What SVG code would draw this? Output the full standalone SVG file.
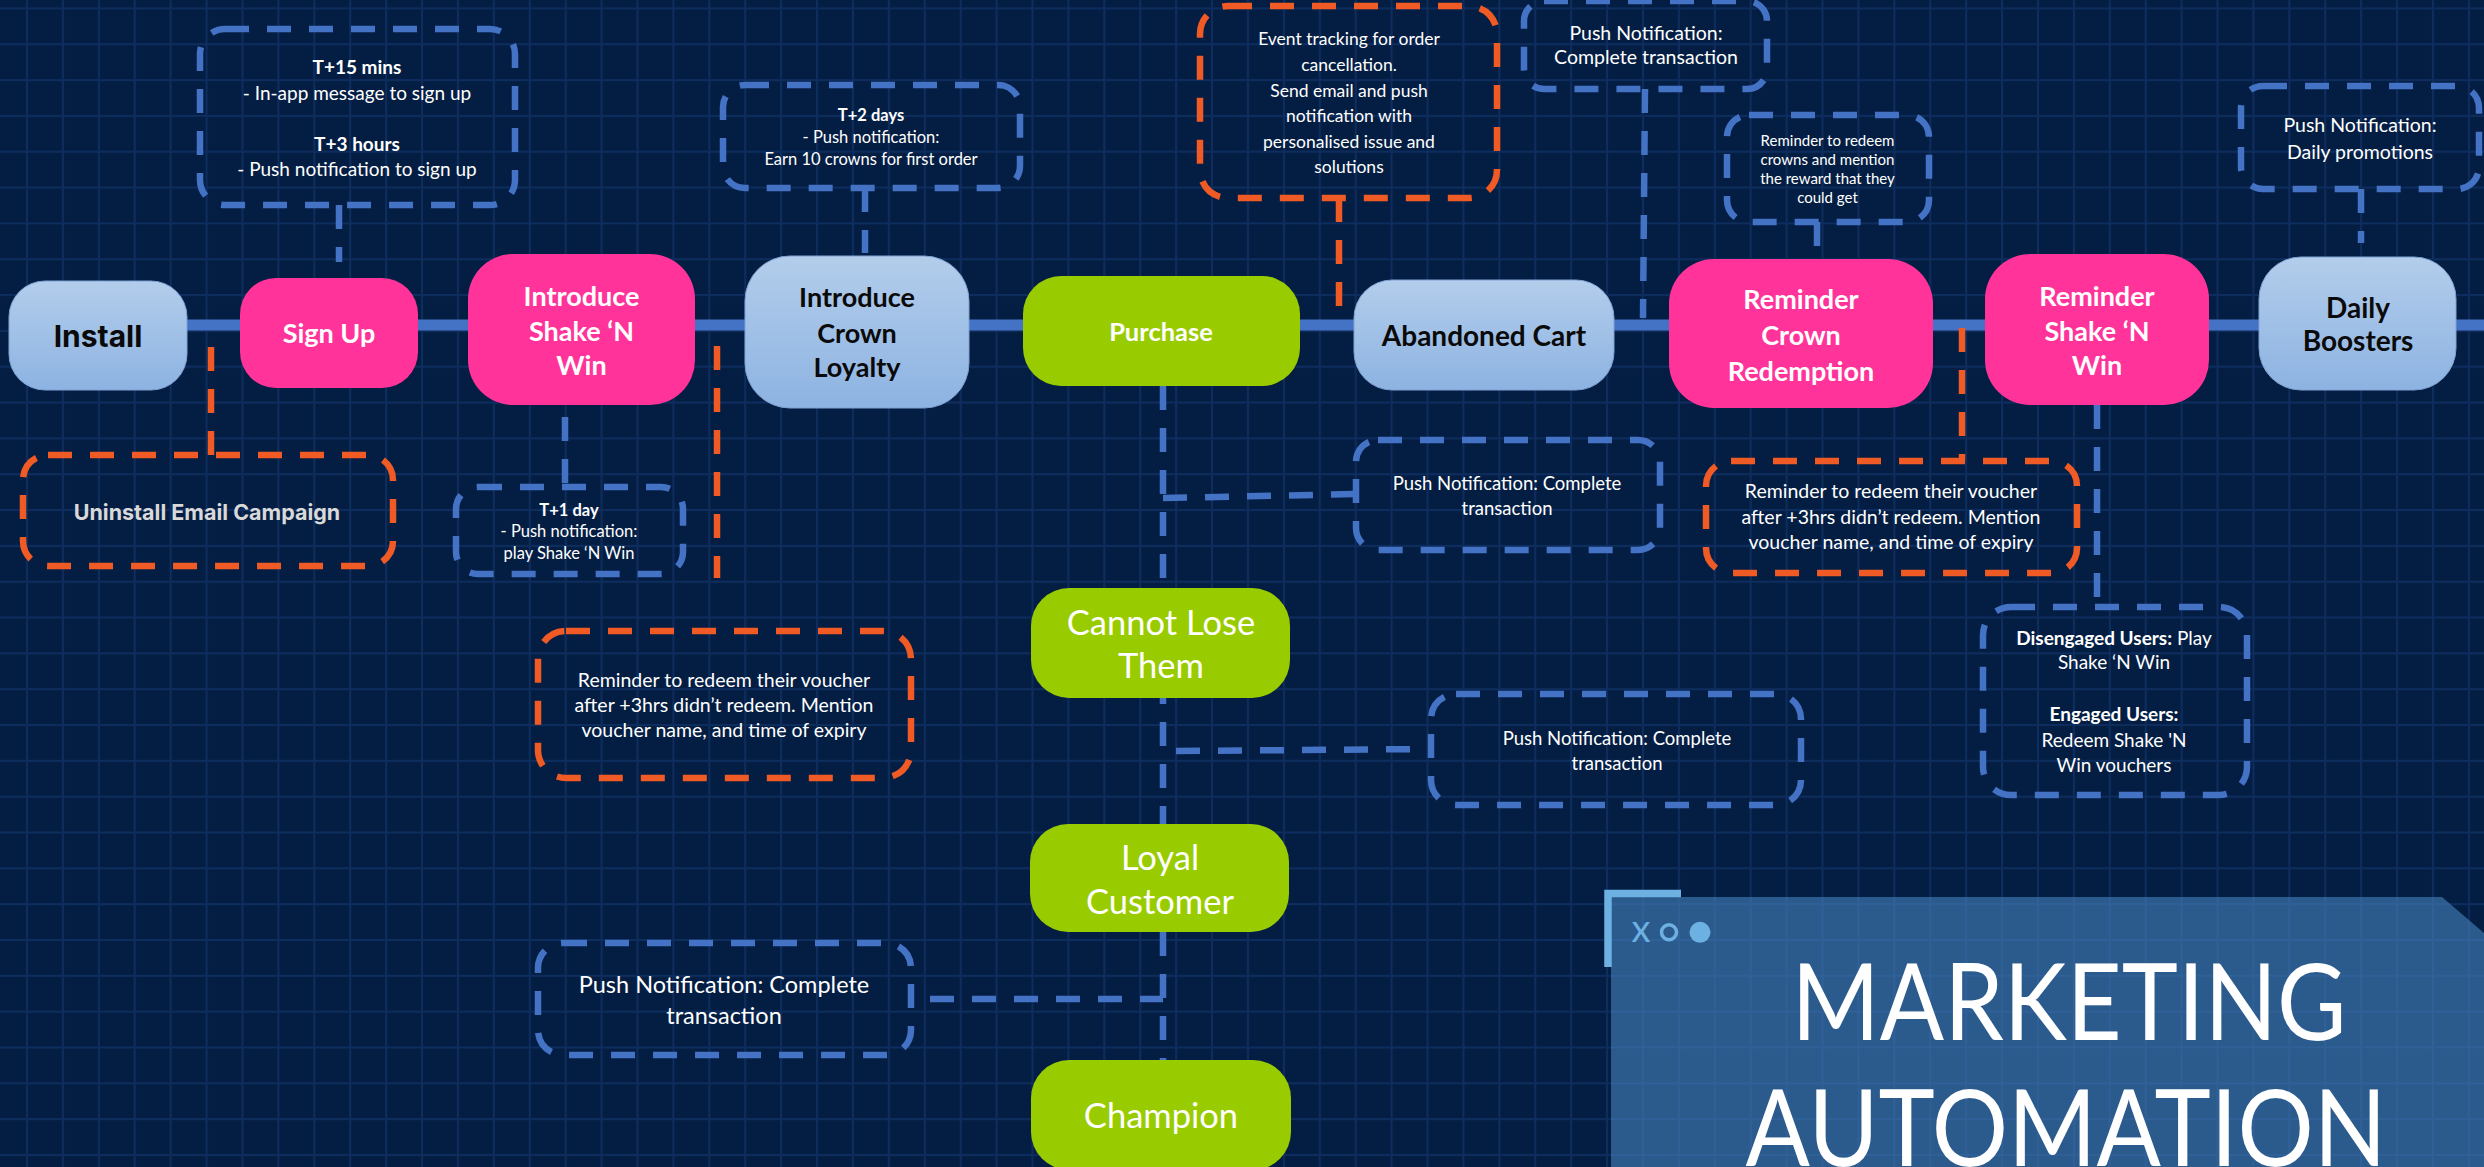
<svg xmlns="http://www.w3.org/2000/svg" width="2484" height="1167" viewBox="0 0 2484 1167">
<defs>
<pattern id="grid" patternUnits="userSpaceOnUse" x="26" y="7.4" width="35.91" height="35.83">
<rect x="0" y="0" width="2" height="35.83" fill="#0E2D5F"/>
<rect x="0" y="0" width="35.91" height="2" fill="#0E2D5F"/>
</pattern>
<linearGradient id="lb" x1="0" y1="0" x2="0" y2="1">
<stop offset="0" stop-color="#B3CDEB"/>
<stop offset="1" stop-color="#8DB3E2"/>
</linearGradient>
<style>
.t{font-family:Lato,'Open Sans','Liberation Sans',sans-serif;text-anchor:middle}
.w{fill:#FFFFFF}
.k{fill:#0A0A0A}
.b{font-weight:700}
.db{fill:none;stroke:#4472C4;stroke-width:6.5;stroke-dasharray:24 18}
.do{fill:none;stroke:#F05A24;stroke-width:6.5;stroke-dasharray:24 18}
.lbn{fill:url(#lb);stroke:#7FA2D4;stroke-width:1}
.pk{fill:#FF3399}
.gr{fill:#99CC00}
.n27{font-size:27px}
.geo{font-family:Inter,'Noto Sans','Liberation Sans',sans-serif;font-weight:700;text-anchor:middle}
</style>
</defs>
<rect width="2484" height="1167" fill="#041E43"/>
<rect width="2484" height="1167" fill="url(#grid)"/>

<g id="connectors">
<line x1="180" y1="325" x2="2484" y2="325" stroke="#4472C4" stroke-width="11"/>
<line class="db" x1="339" y1="205" x2="339" y2="262"/>
<line class="do" x1="211" y1="455" x2="211" y2="346"/>
<line class="db" x1="565" y1="417" x2="565" y2="487"/>
<line class="do" x1="717" y1="346" x2="717" y2="578"/>
<line class="db" x1="865" y1="188" x2="865" y2="253"/>
<line class="do" x1="1339" y1="198" x2="1339" y2="323"/>
<line class="db" x1="1163" y1="386" x2="1163" y2="1060"/>
<line class="db" x1="1163" y1="498" x2="1356" y2="494"/>
<line class="db" x1="1176" y1="751" x2="1431" y2="749"/>
<line class="db" x1="930" y1="999" x2="1163" y2="999"/>
<line class="db" x1="1645" y1="89" x2="1643" y2="318"/>
<line class="db" x1="1817" y1="222" x2="1817" y2="250"/>
<line class="db" x1="2361" y1="189" x2="2361" y2="243"/>
<line class="do" x1="1962" y1="328" x2="1962" y2="461"/>
<line class="db" x1="2097" y1="405" x2="2097" y2="607"/>
</g>

<g id="node-install">
<rect class="lbn" x="9" y="281" width="178" height="109" rx="36"/>
<text class="geo" x="98" y="347" font-size="30" fill="#0A0A0A">Install</text>
</g>
<g id="node-signup">
<rect class="pk" x="240" y="278" width="178" height="110" rx="36"/>
<text class="t w b n27" x="329" y="342.5">Sign Up</text>
</g>
<g id="node-intro-shake">
<rect class="pk" x="468" y="254" width="227" height="151" rx="45"/>
<text class="t w b n27" x="581.5" y="306">Introduce</text>
<text class="t w b n27" x="581.5" y="340.5">Shake ‘N</text>
<text class="t w b n27" x="581.5" y="375">Win</text>
</g>
<g id="node-intro-crown">
<rect class="lbn" x="745" y="256" width="224" height="152" rx="45"/>
<text class="t k b n27" x="857" y="307">Introduce</text>
<text class="t k b n27" x="857" y="342.5">Crown</text>
<text class="t k b n27" x="857" y="377">Loyalty</text>
</g>
<g id="node-purchase">
<rect class="gr" x="1023" y="276" width="277" height="110" rx="38"/>
<text class="t w b" x="1161" y="340.5" font-size="25.5">Purchase</text>
</g>
<g id="node-abandoned">
<rect class="lbn" x="1354" y="280" width="260" height="110" rx="38"/>
<text class="t k b" x="1484" y="345.5" font-size="28">Abandoned Cart</text>
</g>
<g id="node-reminder-crown">
<rect class="pk" x="1669" y="259" width="264" height="149" rx="45"/>
<text class="t w b n27" x="1801" y="309">Reminder</text>
<text class="t w b n27" x="1801" y="344.5">Crown</text>
<text class="t w b n27" x="1801" y="380.5">Redemption</text>
</g>
<g id="node-reminder-shake">
<rect class="pk" x="1985" y="254" width="224" height="151" rx="45"/>
<text class="t w b n27" x="2097" y="305.5">Reminder</text>
<text class="t w b n27" x="2097" y="340.5">Shake ‘N</text>
<text class="t w b n27" x="2097" y="375">Win</text>
</g>
<g id="node-daily">
<rect class="lbn" x="2259" y="257" width="197" height="133" rx="42"/>
<text class="t k b" x="2358" y="317.5" font-size="28">Daily</text>
<text class="t k b" x="2358" y="351" font-size="28">Boosters</text>
</g>
<g id="node-cannot-lose">
<rect class="gr" x="1031" y="588" width="259" height="110" rx="38"/>
<text class="t w" x="1161" y="634.5" font-size="34.5">Cannot Lose</text>
<text class="t w" x="1161" y="678" font-size="34.5">Them</text>
</g>
<g id="node-loyal">
<rect class="gr" x="1030" y="824" width="259" height="108" rx="38"/>
<text class="t w" x="1160" y="869.5" font-size="34.5">Loyal</text>
<text class="t w" x="1160" y="914" font-size="34.5">Customer</text>
</g>
<g id="node-champion">
<rect class="gr" x="1031" y="1060" width="260" height="110" rx="38"/>
<text class="t w" x="1161" y="1127.5" font-size="34.5">Champion</text>
</g>

<g id="note-signup-timing">
<rect class="db" x="200" y="29" width="315" height="176" rx="25"/>
<text class="t w b" x="357" y="74" font-size="19">T+15 mins</text>
<text class="t w" x="357" y="100" font-size="19">-  In-app message to sign up</text>
<text class="t w b" x="357" y="151" font-size="19">T+3 hours</text>
<text class="t w" x="357" y="176" font-size="19">- Push notification to sign up</text>
</g>
<g id="note-uninstall">
<rect class="do" x="23" y="455" width="370" height="111" rx="25"/>
<text class="geo" x="207" y="520" font-size="21.5" fill="#D9D9D9">Uninstall Email Campaign</text>
</g>
<g id="note-t1">
<rect class="db" x="456" y="487" width="227" height="87" rx="22"/>
<text class="t w b" x="569" y="516" font-size="16.5">T+1 day</text>
<text class="t w" x="569" y="537" font-size="16.5">- Push notification:</text>
<text class="t w" x="569" y="559" font-size="16.5">play Shake ‘N Win</text>
</g>
<g id="note-t2">
<rect class="db" x="723" y="85" width="297" height="103" rx="22"/>
<text class="t w b" x="871" y="120.5" font-size="16.5">T+2 days</text>
<text class="t w" x="871" y="143" font-size="16.5">- Push notification:</text>
<text class="t w" x="871" y="165" font-size="16.5">Earn 10 crowns for first order</text>
</g>
<g id="note-event">
<rect class="do" x="1200" y="6" width="297" height="192" rx="28"/>
<text class="t w" x="1349" y="45" font-size="17.5">Event tracking for order</text>
<text class="t w" x="1349" y="71" font-size="17.5">cancellation.</text>
<text class="t w" x="1349" y="96.5" font-size="17.5">Send email and push</text>
<text class="t w" x="1349" y="122" font-size="17.5">notification with</text>
<text class="t w" x="1349" y="147.5" font-size="17.5">personalised issue and</text>
<text class="t w" x="1349" y="173" font-size="17.5">solutions</text>
</g>
<g id="note-push-top">
<rect class="db" x="1524" y="1" width="243" height="88" rx="20"/>
<text class="t w" x="1646" y="39.5" font-size="19.5">Push Notification:</text>
<text class="t w" x="1646" y="64" font-size="19.5">Complete transaction</text>
</g>
<g id="note-crown-reminder">
<rect class="db" x="1727" y="115" width="202" height="107" rx="22"/>
<text class="t w" x="1827.5" y="145.5" font-size="15">Reminder to redeem</text>
<text class="t w" x="1827.5" y="164.5" font-size="15">crowns and mention</text>
<text class="t w" x="1827.5" y="183.5" font-size="15">the reward that they</text>
<text class="t w" x="1827.5" y="202.5" font-size="15">could get</text>
</g>
<g id="note-daily">
<rect class="db" x="2241" y="86" width="238" height="103" rx="22"/>
<text class="t w" x="2360" y="132" font-size="19.5">Push Notification:</text>
<text class="t w" x="2360" y="159" font-size="19.5">Daily promotions</text>
</g>
<g id="note-push-1">
<rect class="db" x="1356" y="440" width="304" height="110" rx="22"/>
<text class="t w" x="1507" y="490" font-size="18.5">Push Notification: Complete</text>
<text class="t w" x="1507" y="515" font-size="18.5">transaction</text>
</g>
<g id="note-voucher-right">
<rect class="do" x="1706" y="461" width="371" height="112" rx="25"/>
<text class="t w" x="1891" y="498" font-size="19.5">Reminder to redeem their voucher</text>
<text class="t w" x="1891" y="524" font-size="19.5">after +3hrs didn’t redeem. Mention</text>
<text class="t w" x="1891" y="549" font-size="19.5">voucher name, and time of expiry</text>
</g>
<g id="note-engaged">
<rect class="db" x="1983" y="607" width="264" height="188" rx="28"/>
<text class="t w" x="2114" y="644.5" font-size="19"><tspan font-weight="700">Disengaged Users:</tspan> Play</text>
<text class="t w" x="2114" y="669" font-size="19">Shake ‘N Win</text>
<text class="t w b" x="2114" y="721" font-size="19">Engaged Users:</text>
<text class="t w" x="2114" y="747" font-size="19">Redeem Shake 'N</text>
<text class="t w" x="2114" y="772" font-size="19">Win vouchers</text>
</g>
<g id="note-push-2">
<rect class="db" x="1431" y="694" width="370" height="111" rx="25"/>
<text class="t w" x="1617" y="745" font-size="18.5">Push Notification: Complete</text>
<text class="t w" x="1617" y="770" font-size="18.5">transaction</text>
</g>
<g id="note-voucher-left">
<rect class="do" x="538" y="631" width="373" height="147" rx="28"/>
<text class="t w" x="724" y="687" font-size="19.5">Reminder to redeem their voucher</text>
<text class="t w" x="724" y="711.5" font-size="19.5">after +3hrs didn’t redeem. Mention</text>
<text class="t w" x="724" y="737" font-size="19.5">voucher name, and time of expiry</text>
</g>
<g id="note-push-3">
<rect class="db" x="538" y="943" width="373" height="112" rx="25"/>
<text class="t w" x="724" y="993" font-size="23.5">Push Notification: Complete</text>
<text class="t w" x="724" y="1024" font-size="23.5">transaction</text>
</g>

<g id="title-panel">
<polygon points="1611,897 2442,897 2484,933 2484,1167 1611,1167" fill="#4682BE" fill-opacity="0.6"/>
<path d="M1608,967 V893.6 H1681" fill="none" stroke="#6DB0E2" stroke-width="7.5"/>
<text x="1641" y="942" style="font-family:Lato,'Open Sans',sans-serif;font-size:38px;text-anchor:middle" fill="#6DB0E2">x</text>
<circle cx="1669" cy="932.3" r="7.5" fill="none" stroke="#6DB0E2" stroke-width="3.5"/>
<circle cx="1700" cy="932.3" r="10.5" fill="#6DB0E2"/>
<text x="2069" y="1040" textLength="555" lengthAdjust="spacingAndGlyphs" style="font-family:Lato,'Open Sans',sans-serif;font-size:107px;text-anchor:middle" fill="#FFFFFF">MARKETING</text>
<text x="2066" y="1166" textLength="641" lengthAdjust="spacingAndGlyphs" style="font-family:Lato,'Open Sans',sans-serif;font-size:107px;text-anchor:middle" fill="#FFFFFF">AUTOMATION</text>
</g>
</svg>
